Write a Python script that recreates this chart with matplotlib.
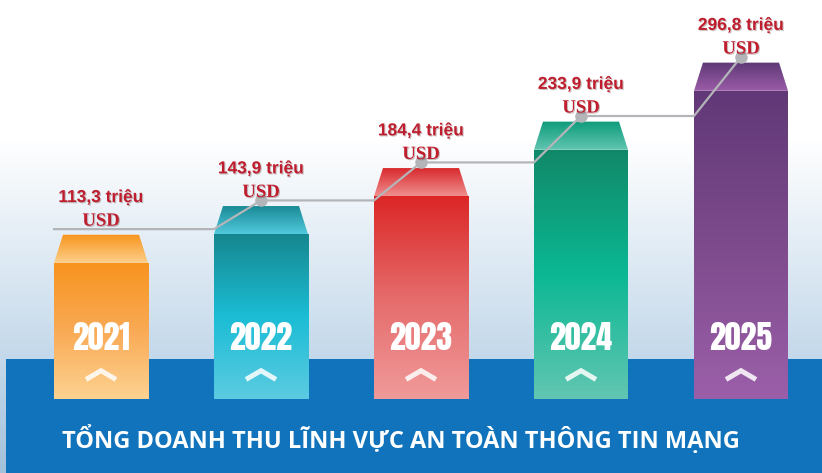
import numpy as np
import matplotlib.pyplot as plt
import matplotlib.patheffects as pe
from matplotlib.colors import LinearSegmentedColormap, to_rgb
from matplotlib.patches import Polygon, Rectangle

# data (triệu USD)
years = ['2021', '2022', '2023', '2024', '2025']
revenue = [113.3, 143.9, 184.4, 233.9, 296.8]
value_labels = ['113,3 triệu', '143,9 triệu', '184,4 triệu', '233,9 triệu', '296,8 triệu']
unit_label = 'USD'
title = 'TỔNG DOANH THU LĨNH VỰC AN TOÀN THÔNG TIN MẠNG'

# gradient stops, top -> bottom
front_colors = [
    ['#f7931e', '#f9aa55', '#fdd291'],
    ['#16878f', '#1bbdd5', '#5ccbe1'],
    ['#dc2626', '#e56b6b', '#f09a9a'],
    ['#118868', '#0bb894', '#62c6b2'],
    ['#613877', '#7d4b8c', '#9b5fa9'],
]
cap_colors = [
    ['#f7941d', '#fcd08a'],
    ['#178893', '#52c9dd'],
    ['#d8262a', '#ef8e8e'],
    ['#0d9b7b', '#62c6b1'],
    ['#5e3976', '#9b5ca8'],
]

BASE = -31.8        # bar foot in data units
BAR_W = 0.5875
CAP_H = 30
CAP_IN = 0.056
DOT_UP = 36

year_font = ['Anton', 'Bebas Neue', 'Oswald', 'Open Sans Condensed', 'DejaVu Sans']
label_font = ['Liberation Sans', 'DejaVu Sans']
title_font = ['Open Sans', 'DejaVu Sans']
serif = ['Liberation Serif', 'DejaVu Serif']

fig = plt.figure(figsize=(8.22, 4.73), dpi=100)
ax = fig.add_axes([0, 0, 1, 1])
ax.set_xlim(-0.63125, 4.50625)
ax.set_ylim(BASE - 74 / 0.938, BASE + 399 / 0.938)
ax.axis('off')

# background: white fading into light blue
top, mid, bot = np.array(to_rgb('#ffffff')), np.array(to_rgb('#c3d8ea')), np.array(to_rgb('#a3c1da'))
bg = np.zeros((473, 1, 3))
for r in range(473):
    if r < 140:
        c = top
    elif r < 359:
        c = top + (mid - top) * (r - 140) / 219
    else:
        c = mid + (bot - mid) * (r - 359) / 114
    bg[r, 0] = c
ax.imshow(bg, extent=(0, 1, 0, 1), transform=ax.transAxes, aspect='auto',
          origin='upper', zorder=0)

ax.add_patch(Rectangle((6 / 822, 0), 1, 114 / 473, transform=ax.transAxes,
                       color='#1073bb', lw=0, zorder=1))


def grad_fill(patch, colors, x0, x1, y0, y1):
    ax.add_patch(patch)
    cmap = LinearSegmentedColormap.from_list('g', colors)
    g = np.linspace(0, 1, 256).reshape(-1, 1)
    im = ax.imshow(g, cmap=cmap, extent=(x0, x1, y0, y1), aspect='auto',
                   origin='upper', zorder=2)
    im.set_clip_path(patch)


xs = np.arange(len(years))
for i, v in enumerate(revenue):
    l, r = xs[i] - BAR_W / 2, xs[i] + BAR_W / 2
    front = Rectangle((l, BASE), BAR_W, v - BASE, fc='none', lw=0)
    grad_fill(front, front_colors[i], l, r, BASE, v)
    cap = Polygon([(l, v), (r, v), (r - CAP_IN, v + CAP_H), (l + CAP_IN, v + CAP_H)],
                  closed=True, fc='none', lw=0)
    grad_fill(cap, cap_colors[i], l, r, v, v + CAP_H)

    ax.text(xs[i], 0.2854, years[i], transform=ax.get_xaxis_transform(),
            ha='center', va='center', color='white', fontsize=23,
            fontweight='bold', family=year_font, zorder=5)
    ax.plot([xs[i] - 0.08, xs[i], xs[i] + 0.08], [-9.6, -1.6, -9.6],
            color='white', alpha=0.85, lw=3.6, solid_joinstyle='miter', zorder=5)

# connecting line and dots
levels = [v + DOT_UP for v in revenue]
lx, ly = [xs[0] - BAR_W / 2], [levels[0]]
for i in range(1, len(xs)):
    lx += [xs[i] - BAR_W / 2, xs[i]]
    ly += [levels[i - 1], levels[i]]
ax.plot(lx, ly, color='#b3b5b8', lw=1.6, zorder=3)
ax.plot(xs[1:], levels[1:], 'o', color='#b3b5b8', ms=8, zorder=4)

shadow = [pe.withSimplePatchShadow(offset=(0.8, -0.8), alpha=0.25)]
for i in range(len(xs)):
    ax.annotate(unit_label, (xs[i], levels[i]), xytext=(0, 2.5), textcoords='offset points',
                ha='center', va='baseline', color='#be1e2d', fontsize=13.5,
                fontweight='bold', family=serif, zorder=5, path_effects=shadow)
    ax.annotate(value_labels[i], (xs[i], levels[i]), xytext=(0, 19.5), textcoords='offset points',
                ha='center', va='baseline', color='#be1e2d', fontsize=12.5,
                fontweight='bold', family=label_font, zorder=5, path_effects=shadow)

ax.text(62 / 822, 1 - 440 / 473, title, transform=ax.transAxes, ha='left', va='center',
        color='white', fontsize=17, fontweight='bold', family=title_font, zorder=5)

fig.savefig('out.png', dpi=100)
